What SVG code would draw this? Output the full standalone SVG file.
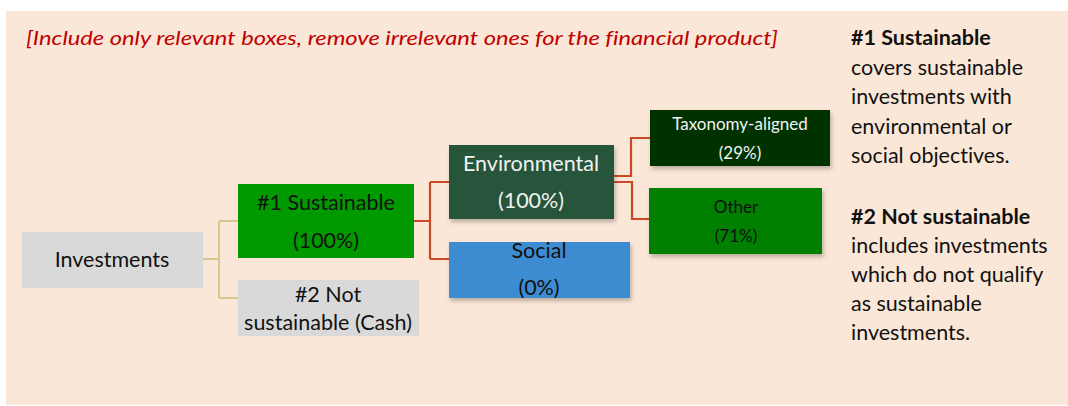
<svg xmlns="http://www.w3.org/2000/svg" width="1068" height="406" viewBox="0 0 1068 406">
<style>
text{font-family:Lato,"Open Sans","Liberation Sans",sans-serif;font-variant-ligatures:none;}
.t{font-size:21.5px;text-anchor:middle;}
.s{font-size:17px;text-anchor:middle;}
.dk{fill:#111;}
.wh{fill:#f2f2f2;}
.side{font-size:21.5px;fill:#111;}
.tan{fill:none;stroke:#d4c78f;stroke-width:2;}
.red{fill:none;stroke:#c94a2b;stroke-width:2.2;}
</style>
<defs>
<filter id="sh" x="-10%" y="-10%" width="125%" height="140%">
<feDropShadow dx="1.5" dy="3" stdDeviation="2" flood-color="#000" flood-opacity="0.25"/>
</filter>
</defs>
<rect x="0" y="0" width="1068" height="406" fill="#ffffff"/>
<rect x="6" y="11" width="1062" height="394" fill="#fae7d7"/>
<text x="26" y="45" font-size="19" font-style="italic" fill="#c00000" textLength="752" lengthAdjust="spacingAndGlyphs">[Include only relevant boxes, remove irrelevant ones for the financial product]</text>

<g id="connectors">
<path class="tan" d="M203 259 H219 M219 221 V298 M219 221 H238 M219 298 H238"/>
<path class="red" d="M414 221 H430 M430 182 V259 M430 182 H449 M430 259 H449"/>
<path class="red" d="M614 176 H631 V138 H650"/>
<path class="red" d="M614 182 H632 V219 H649"/>
</g>

<g id="investments">
<rect x="22" y="232" width="181" height="56" fill="#d9d9d9"/>
<text class="t dk" x="112" y="267">Investments</text>
</g>
<g id="sustainable">
<rect x="238" y="184" width="176" height="74" fill="#009900"/>
<text class="t dk" x="326" y="210">#1 Sustainable</text>
<text class="t dk" x="326" y="248">(100%)</text>
</g>
<g id="notsustainable">
<rect x="238" y="280" width="181" height="56" fill="#d9d9d9"/>
<text class="t dk" x="328" y="302">#2 Not</text>
<text class="t dk" x="328" y="330">sustainable (Cash)</text>
</g>
<g id="environmental">
<rect x="449" y="145" width="165" height="74" fill="#26553a" filter="url(#sh)"/>
<text class="t wh" x="531" y="171">Environmental</text>
<text class="t wh" x="531" y="208">(100%)</text>
</g>
<g id="social">
<rect x="449" y="242" width="181" height="56" fill="#3e8bd0" filter="url(#sh)"/>
<text class="t dk" x="539" y="258">Social</text>
<text class="t dk" x="539" y="295">(0%)</text>
</g>
<g id="taxonomy">
<rect x="650" y="110" width="180" height="56" fill="#003300" filter="url(#sh)"/>
<text class="s wh" x="740" y="130">Taxonomy-aligned</text>
<text class="s wh" x="740" y="159">(29%)</text>
</g>
<g id="other">
<rect x="649" y="188" width="173" height="66" fill="#007f00" filter="url(#sh)"/>
<text class="s dk" x="736" y="213">Other</text>
<text class="s dk" x="736" y="242">(71%)</text>
</g>

<g id="legend">
<text class="side" x="851" y="45" font-weight="bold">#1 Sustainable</text>
<text class="side" x="851" y="75">covers sustainable</text>
<text class="side" x="851" y="104">investments with</text>
<text class="side" x="851" y="134">environmental or</text>
<text class="side" x="851" y="163">social objectives.</text>
<text class="side" x="851" y="224" font-weight="bold">#2 Not sustainable</text>
<text class="side" x="851" y="253">includes investments</text>
<text class="side" x="851" y="282">which do not qualify</text>
<text class="side" x="851" y="311">as sustainable</text>
<text class="side" x="851" y="340">investments.</text>
</g>
</svg>
